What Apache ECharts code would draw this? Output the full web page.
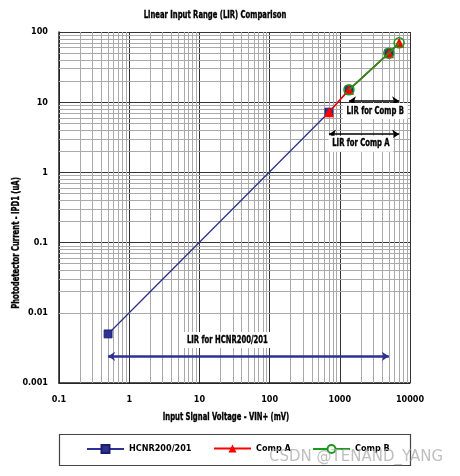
<!DOCTYPE html>
<html>
<head>
<meta charset="utf-8">
<script src="https://cdn.jsdelivr.net/npm/echarts@6/dist/echarts.min.js"></script>
<style>html,body{margin:0;padding:0;background:#fff}#c{width:460px;height:476px}</style>
</head>
<body>
<div id="c"></div>
<script>
// ---- data ----
var titleText = 'Linear Input Range (LIR) Comparison';
var xName = 'Input Signal Voltage - VIN+ (mV)';
var yName = 'Photodetector Current - IPD1 (uA)';
var xTickValues = [0.1, 1, 10, 100, 1000, 10000];
var xTickLabels = ['0.1', '1', '10', '100', '1000', '10000'];
var yTickValues = [0.001, 0.01, 0.1, 1, 10, 100];
var yTickLabels = ['0.001', '0.01', '0.1', '1', '10', '100'];
var seriesNames = ['HCNR200/201', 'Comp A', 'Comp B'];
var hcnrData = [[0.5, 0.005], [700, 7.2], [1350, 15], [5000, 50]];
var compAData = [[700, 7.2], [1350, 15], [5000, 50], [7000, 70]];
var compBData = [[1350, 15], [5000, 50], [7000, 70]];
// annotation ranges: [xStart, xEnd, y]
var lirHcnr = [0.5, 5000, 0.0024];
var lirCompA = [700, 7000, 3.5];
var lirCompB = [1350, 7000, 10.4];
// annotation labels: [x, y, text]
var lirLabels = [
  [3200, 7.5, 'LIR for Comp B'],
  [2000, 2.55, 'LIR for Comp A'],
  [25, 0.0041, 'LIR for HCNR200/201']
];
var minorMultipliers = [2, 3, 4, 5, 6, 7, 8, 9];

var FONT = "'Liberation Sans Narrow', 'DejaVu Sans Condensed', 'Arial Narrow', sans-serif";
var SQ = 0.76; // horizontal squeeze to imitate the condensed face

function minorValues(ticks) {
  var out = [];
  for (var i = 0; i < ticks.length - 1; i++) {
    for (var j = 0; j < minorMultipliers.length; j++) {
      out.push(parseFloat((ticks[i] * minorMultipliers[j]).toPrecision(6)));
    }
  }
  return out;
}
function labelFor(values, labels) {
  return function (v) {
    for (var i = 0; i < values.length; i++) {
      if (Math.abs(Math.log10(v) - Math.log10(values[i])) < 1e-6) return labels[i];
    }
    return '';
  };
}

var minorGrid = [];
minorValues(xTickValues).forEach(function (v) { minorGrid.push({ xAxis: v }); });
minorValues(yTickValues).forEach(function (v) { minorGrid.push({ yAxis: v }); });

var chart = echarts.init(document.getElementById('c'), null, { renderer: 'canvas' });

var legendBase = {
  top: 444, itemWidth: 37, itemHeight: 10, padding: 0,
  textStyle: { fontFamily: FONT, fontWeight: 'bold', fontSize: 9, color: '#000' },
  selectedMode: false
};

function squeezedText(x, y, text, opts) {
  opts = opts || {};
  return {
    type: 'text', x: x, y: y, rotation: opts.rotation || 0, scaleX: SQ, scaleY: 1, z: 50,
    style: Object.assign({
      text: text, fontFamily: FONT, fontWeight: 'bold', fontSize: 10, fill: '#000',
      stroke: '#000', lineWidth: 0.35,
      align: 'center', verticalAlign: 'middle'
    }, opts.style || {})
  };
}

chart.setOption({
  animation: false,
  backgroundColor: '#fff',
  grid: { left: 59, right: 50, top: 32, bottom: 93, containLabel: false, outerBoundsMode: 'none' },
  xAxis: {
    type: 'log', logBase: 10,
    min: xTickValues[0], max: xTickValues[xTickValues.length - 1],
    axisLine: { lineStyle: { color: '#222', width: 1.5 } },
    axisTick: { show: false },
    axisLabel: { formatter: labelFor(xTickValues, xTickLabels), margin: 12, fontFamily: FONT, fontWeight: 'bold', fontSize: 9, color: '#000' },
    splitLine: { show: true, lineStyle: { color: '#333', width: 1 } },
    minorSplitLine: { show: false }
  },
  yAxis: {
    type: 'log', logBase: 10,
    min: yTickValues[0], max: yTickValues[yTickValues.length - 1],
    axisLine: { show: true, lineStyle: { color: '#222', width: 1.5 } },
    axisTick: { show: false },
    axisLabel: { formatter: labelFor(yTickValues, yTickLabels), margin: 11, fontFamily: FONT, fontWeight: 'bold', fontSize: 9, color: '#000' },
    splitLine: { show: true, lineStyle: { color: '#333', width: 1 } },
    minorSplitLine: { show: false }
  },
  legend: [
    Object.assign({ data: [seriesNames[0]], left: 86 }, legendBase),
    Object.assign({ data: [seriesNames[1]], left: 213 }, legendBase),
    Object.assign({ data: [{ name: seriesNames[2], itemStyle: { color: '#fff' } }], left: 312 }, legendBase)
  ],
  series: [
    {
      type: 'line', name: '_grid', data: [], silent: true, z: 1,
      markLine: {
        silent: true, symbol: 'none', animation: false, z: 1,
        label: { show: false },
        lineStyle: { color: '#aaa', width: 1, type: 'solid' },
        data: minorGrid
      }
    },
    {
      type: 'line', name: seriesNames[0], data: hcnrData, z: 3,
      symbol: 'rect', symbolSize: 8,
      lineStyle: { color: '#2e3192', width: 1.3 },
      itemStyle: { color: '#2e3192', borderColor: '#1b1d6b', borderWidth: 0.8 }
    },
    {
      type: 'line', name: seriesNames[1], data: compAData, z: 4,
      symbol: 'triangle', symbolSize: 10,
      lineStyle: { color: '#ff0000', width: 1.5 },
      itemStyle: { color: '#ff0000' }
    },
    {
      type: 'line', name: seriesNames[2], data: compBData, z: 5,
      symbol: 'circle', symbolSize: 10,
      lineStyle: { color: '#1a9a1a', width: 1.5 },
      itemStyle: { color: 'rgba(0,0,0,0)', borderColor: '#1a9a1a', borderWidth: 1.5 }
    },
    {
      type: 'line', name: '_lir', data: [], silent: true, z: 6,
      markLine: {
        silent: true, animation: false, z: 6, symbol: ['arrow', 'arrow'], symbolSize: [7, 7],
        label: { show: false },
        data: [
          [{ coord: [lirHcnr[0], lirHcnr[2]], lineStyle: { color: '#2e3192', width: 2.5, type: 'solid' } }, { coord: [lirHcnr[1], lirHcnr[2]] }],
          [{ coord: [lirCompA[0], lirCompA[2]], lineStyle: { color: '#000', width: 1.5, type: 'solid' } }, { coord: [lirCompA[1], lirCompA[2]] }],
          [{ coord: [lirCompB[0], lirCompB[2]], lineStyle: { color: '#000', width: 1.5, type: 'solid' } }, { coord: [lirCompB[1], lirCompB[2]] }]
        ]
      }
    }
  ]
});

// texts (title, axis names, annotations) in a squeezed face; annotation anchors via the chart's own scales
var graphics = [
  { type: 'rect', shape: { x: 59.5, y: 434.5, width: 351, height: 31 }, style: { fill: 'none', stroke: '#444', lineWidth: 1.2 }, z: 0 },
  squeezedText(215, 15, titleText),
  squeezedText(226, 417, xName),
  squeezedText(16, 243, yName, { rotation: Math.PI / 2 })
];
lirLabels.forEach(function (d) {
  var p = chart.convertToPixel({ gridIndex: 0 }, [d[0], d[1]]);
  graphics.push(squeezedText(p[0], p[1], d[2], { style: { backgroundColor: '#fff', padding: [3, 5] } }));
});
graphics.push({ type: 'text', left: 269, top: 450, z: 100,
  style: { text: 'CSDN @TENAND_YANG', font: '15px "DejaVu Sans", sans-serif', fill: 'rgba(170,170,170,0.75)' } });
chart.setOption({ graphic: graphics });
</script>
</body>
</html>
